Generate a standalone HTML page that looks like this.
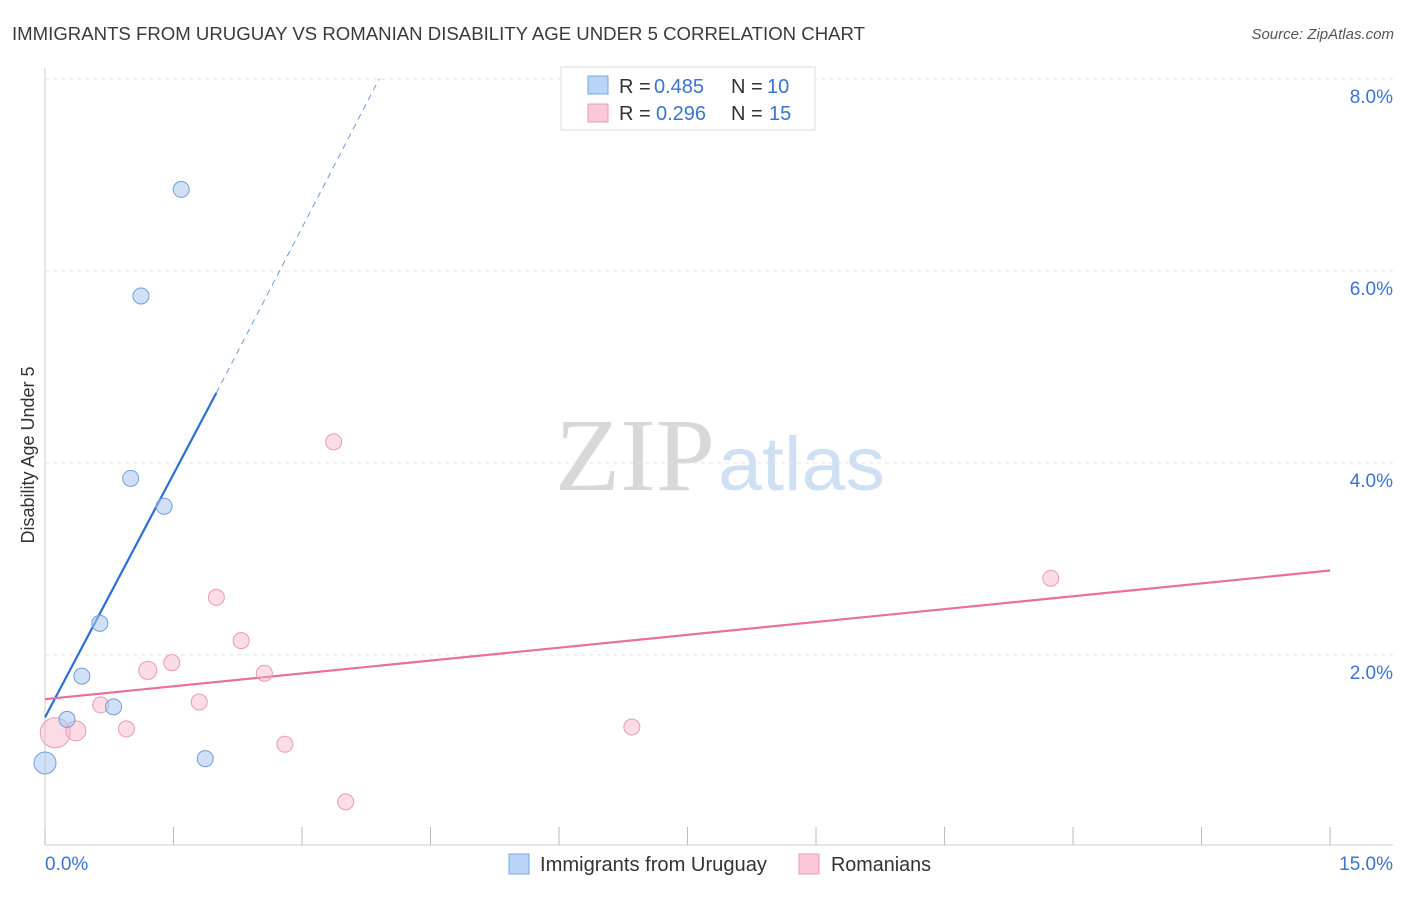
<!DOCTYPE html>
<html><head><meta charset="utf-8"><style>
body{margin:0;background:#fff;font-family:"Liberation Sans",sans-serif;}
</style></head><body>
<svg width="1406" height="892" viewBox="0 0 1406 892" xmlns="http://www.w3.org/2000/svg">
<text x="12" y="40" font-size="18" fill="#3a3a3a" textLength="853" lengthAdjust="spacingAndGlyphs">IMMIGRANTS FROM URUGUAY VS ROMANIAN DISABILITY AGE UNDER 5 CORRELATION CHART</text>
<text x="1394" y="39" font-size="15" fill="#555" font-style="italic" text-anchor="end">Source: ZipAtlas.com</text>
<text x="555" y="490" font-size="104" fill="#d8d8d8" textLength="160" lengthAdjust="spacingAndGlyphs" font-family="Liberation Serif,serif">ZIP</text>
<text x="718" y="490" font-size="76" fill="#cfe0f5" textLength="167" lengthAdjust="spacingAndGlyphs">atlas</text>
<g id="grid"></g><g id="axes"></g><g id="lines"></g><g id="pts"></g>
<text transform="translate(34,455) rotate(-90)" font-size="18" fill="#333" text-anchor="middle">Disability Age Under 5</text>
<g>
<rect x="561" y="67" width="254" height="63" fill="#fff" stroke="#ddd"/>
<rect x="588" y="76" width="20" height="18" fill="#b8d4f6" stroke="#7aa6e0"/>
<rect x="588" y="104" width="20" height="18" fill="#fbc8d8" stroke="#eb9ab4"/>
<text x="619" y="93" font-size="20" fill="#333">R =</text>
<text x="654" y="93" font-size="20" fill="#3b73d1">0.485</text>
<text x="731" y="93" font-size="20" fill="#333">N =</text>
<text x="767" y="93" font-size="20" fill="#3b73d1">10</text>
<text x="619" y="120" font-size="20" fill="#333">R =</text>
<text x="656" y="120" font-size="20" fill="#3b73d1">0.296</text>
<text x="731" y="120" font-size="20" fill="#333">N =</text>
<text x="769" y="120" font-size="20" fill="#3b73d1">15</text>
</g>
<g>
<rect x="509" y="854" width="20" height="20" fill="#b8d4f6" stroke="#7aa6e0"/>
<text x="540" y="871" font-size="20" fill="#333" textLength="227" lengthAdjust="spacingAndGlyphs">Immigrants from Uruguay</text>
<rect x="799" y="854" width="20" height="20" fill="#fbc8d8" stroke="#eb9ab4"/>
<text x="831" y="871" font-size="20" fill="#333" textLength="100" lengthAdjust="spacingAndGlyphs">Romanians</text>
</g>
</svg>
<script>
const yTicks=[2,4,6,8];
const yTickLabels=["2.0%","4.0%","6.0%","8.0%"];
const xTicks=[0,1.5,3,4.5,6,7.5,9,10.5,12,13.5,15];
const blueX=[0,0.257,0.43,0.64,0.8,1.0,1.12,1.39,1.59,1.87];
const blueY=[0.875,1.33,1.78,2.33,1.46,3.84,5.74,3.55,6.85,0.92];
const blueR=[11,8,8,8,8,8,8,8,8,8];
const pinkX=[0.12,0.36,0.65,0.95,1.2,1.48,1.8,2.0,2.29,2.56,2.8,3.37,3.51,6.85,11.74];
const pinkY=[1.19,1.21,1.48,1.23,1.84,1.92,1.51,2.6,2.15,1.81,1.07,4.22,0.47,1.25,2.8];
const pinkR=[15,10,8,8,9,8,8,8,8,8,8,8,8,8,8];
const blueLine=[[0,1.35],[2.0,4.73]];
const blueDash=[[2.0,4.73],[3.9,8.0]];
const pinkLine=[[0,1.54],[15,2.88]];
const X=v=>45+v*85.67, Y=v=>847-v*96;
const NS="http://www.w3.org/2000/svg";
function mk(p,t,a){const e=document.createElementNS(NS,t);for(const k in a)e.setAttribute(k,a[k]);document.getElementById(p).appendChild(e);return e;}
yTicks.forEach((t,i)=>{
 const l=mk('grid','line',{x1:45,x2:1393,y1:Y(t),y2:Y(t),stroke:'#e4e4e4','stroke-dasharray':'4,4'});
 
 
 const tx=mk('grid','text',{x:1393,y:Y(t)+24,'font-size':19,fill:'#3b73d1','text-anchor':'end'});tx.textContent=yTickLabels[i];
 
 
});
mk('axes','line',{x1:45,x2:45,y1:68,y2:845,stroke:'#ccc'});
mk('axes','line',{x1:45,x2:1393,y1:845,y2:845,stroke:'#ccc'});
xTicks.forEach(t=>{const l=mk('axes','line',{x1:X(t),x2:X(t),y1:827,y2:845,stroke:'#bbb'});
 
 });
let a=mk('axes','text',{x:45,y:870,'font-size':19,fill:'#3b73d1'});a.textContent='0.0%';
a=mk('axes','text',{x:1393,y:870,'font-size':19,fill:'#3b73d1','text-anchor':'end'});a.textContent='15.0%';
function ln(s,c,d){const e=mk('lines','line',{x1:X(s[0][0]),y1:Y(s[0][1]),x2:X(s[1][0]),y2:Y(s[1][1]),stroke:c,'stroke-width':d?1:2.2});if(d)e.setAttribute('stroke-dasharray','6,5');return e;}
let e=ln(blueLine,'#2b6fd6');
e=ln(blueDash,'#6b9be0',1);
e=ln(pinkLine,'#e8709a');
pinkX.forEach((x,i)=>{const c=mk('pts','circle',{cx:X(x),cy:Y(pinkY[i]),r:pinkR[i],fill:'rgba(248,180,200,0.45)',stroke:'#eb9ab4'});
 
 });
blueX.forEach((x,i)=>{const c=mk('pts','circle',{cx:X(x),cy:Y(blueY[i]),r:blueR[i],fill:'rgba(170,200,240,0.55)',stroke:'#6f9fdc'});
 
 });
</script>
</body></html>
